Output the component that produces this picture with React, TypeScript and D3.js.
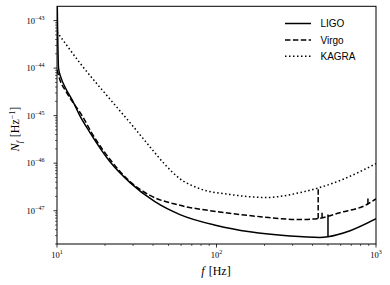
import React from 'react';
import * as d3 from 'd3';

const ligoF = [10, 10.09, 10.22, 10.59, 11.22, 12.4, 13.9, 16.1, 21.5, 28.7, 41.1, 59.0, 100, 162, 289, 445, 500, 688, 1000];
const ligoN = [4.4e-43, 6.4e-44, 1.0e-44, 6.3e-45, 4.0e-45, 2.2e-45, 1e-45, 4.4e-46, 1.07e-46, 3.9e-47, 1.55e-47, 8.3e-48, 4.9e-48, 3.6e-48, 2.94e-48, 2.75e-48, 2.85e-48, 3.8e-48, 6.8e-48];
const ligoSpikeF = [500];
const ligoSpikeN = [8.3e-48];

const virgoF = [10, 10.44, 11.4, 14.6, 16.6, 22.1, 28.7, 38.3, 59.0, 100, 188, 333, 427, 593, 877, 1000];
const virgoN = [9.2e-45, 5.6e-45, 3.2e-45, 9.1e-46, 4.2e-46, 1.07e-46, 4.1e-47, 2.1e-47, 1.3e-47, 9.6e-48, 7.5e-48, 6.5e-48, 6.8e-48, 9.1e-48, 1.35e-47, 1.78e-47];
const virgoSpikeF = [434, 459, 890];
const virgoSpikeN = [3.0e-47, 9.1e-48, 2.05e-47];

const kagraF = [10, 13.9, 21.8, 28.7, 38.3, 47.6, 59.0, 78.7, 121, 207, 333, 593, 1000];
const kagraN = [5.8e-44, 1.29e-44, 2.1e-45, 7.1e-46, 2.2e-46, 9.3e-47, 4.7e-47, 2.9e-47, 2.2e-47, 1.9e-47, 2.4e-47, 4.3e-47, 9.8e-47];

const xTickExp = [1, 2, 3];
const yTickExp = [-47, -46, -45, -44, -43];
const legendLabels = ['LIGO', 'Virgo', 'KAGRA'];

const W = 390, H = 285;
const L = 57, R = 376, T = 6.3, B = 244;

export default function App() {
  const x = d3.scaleLog().domain([10, 1000]).range([L, R]);
  const y = d3.scaleLog().domain([Math.pow(10, -47.7), Math.pow(10, -42.7)]).range([B, T]);
  const line = d3.line<[number, number]>().x(d => x(d[0])).y(d => y(d[1])).curve(d3.curveMonotoneX);
  const lin = d3.line<[number, number]>().x(d => x(d[0])).y(d => y(d[1]));

  const interpLog = (fs: number[], ns: number[], f: number) => {
    const lf = Math.log10(f);
    for (let i = 0; i < fs.length - 1; i++) {
      const a = Math.log10(fs[i]), b = Math.log10(fs[i + 1]);
      if (lf >= a && lf <= b) {
        const t = (lf - a) / (b - a);
        return Math.pow(10, Math.log10(ns[i]) * (1 - t) + Math.log10(ns[i + 1]) * t);
      }
    }
    return ns[ns.length - 1];
  };

  const zip = (a: number[], b: number[]) => a.map((v, i) => [v, b[i]] as [number, number]);

  const series = [
    { f: ligoF, n: ligoN, sf: ligoSpikeF, sn: ligoSpikeN, dash: undefined as string | undefined },
    { f: virgoF, n: virgoN, sf: virgoSpikeF, sn: virgoSpikeN, dash: '5.5,2.4' },
    { f: kagraF, n: kagraN, sf: [] as number[], sn: [] as number[], dash: '1.5,2.5' },
  ];

  const xMinor: number[] = [];
  for (let e = 1; e < 3; e++) for (let k = 2; k <= 9; k++) xMinor.push(k * Math.pow(10, e));
  const yMinor: number[] = [];
  for (let e = -48; e <= -43; e++) for (let k = 2; k <= 9; k++) {
    const v = k * Math.pow(10, e);
    if (v >= Math.pow(10, -47.7) && v <= Math.pow(10, -42.7)) yMinor.push(v);
  }

  const serif = '"Liberation Serif", "DejaVu Serif", serif';
  const sans = '"Liberation Sans", Arial, sans-serif';

  return (
    <svg width={W} height={H} style={{ position: 'absolute', left: 0, top: 0, background: '#fff' }}>
      <defs>
        <clipPath id="plot">
          <rect x={L} y={T} width={R - L} height={B - T} />
        </clipPath>
      </defs>
      <g clipPath="url(#plot)" fill="none" stroke="#000" strokeWidth={1.5}>
        {series.map((s, i) => (
          <g key={i}>
            <path d={line(zip(s.f, s.n)) || ''} strokeDasharray={s.dash} />
            {s.sf.map((sf, j) => (
              <path key={j} d={lin([[sf, interpLog(s.f, s.n, sf)], [sf, s.sn[j]]]) || ''} strokeDasharray={s.dash} />
            ))}
          </g>
        ))}
      </g>
      <rect x={L} y={T} width={R - L} height={B - T} fill="none" stroke="#000" strokeWidth={1} />
      {xTickExp.map(e => {
        const px = x(Math.pow(10, e));
        return (
          <g key={e}>
            <line x1={px} x2={px} y1={B} y2={B + 3.5} stroke="#000" strokeWidth={0.8} />
            <text x={px} y={258} textAnchor="middle" fontFamily={serif} fontSize={8.5} fill="#000">
              10<tspan dy={-3.8} fontSize={6}>{e}</tspan>
            </text>
          </g>
        );
      })}
      {xMinor.map((v, i) => (
        <line key={i} x1={x(v)} x2={x(v)} y1={B} y2={B + 2} stroke="#000" strokeWidth={0.6} />
      ))}
      {yTickExp.map(e => {
        const py = y(Math.pow(10, e));
        return (
          <g key={e}>
            <line x1={L - 3.5} x2={L} y1={py} y2={py} stroke="#000" strokeWidth={0.8} />
            <text x={44.5} y={py + 3} textAnchor="end" fontFamily={serif} fontSize={8.5} fill="#000">
              10<tspan dy={-3.8} fontSize={6}>{'\u2212' + Math.abs(e)}</tspan>
            </text>
          </g>
        );
      })}
      {yMinor.map((v, i) => (
        <line key={i} x1={L - 2} x2={L} y1={y(v)} y2={y(v)} stroke="#000" strokeWidth={0.6} />
      ))}
      <text x={216} y={275} textAnchor="middle" fontFamily={serif} fontSize={12} fill="#000">
        <tspan fontStyle="italic">f</tspan>
        <tspan dx={4}>[Hz]</tspan>
      </text>
      <text transform="translate(19,129) rotate(-90)" textAnchor="middle" fontFamily={serif} fontSize={12} fill="#000">
        <tspan fontStyle="italic">N</tspan>
        <tspan fontStyle="italic" fontSize={8} dy={2.5}>f</tspan>
        <tspan dx={4} dy={-2.5}>[Hz</tspan>
        <tspan fontSize={8} dy={-4.5}>{'\u22121'}</tspan>
        <tspan dy={4.5}>]</tspan>
      </text>
      {legendLabels.map((lab, i) => {
        const cy = 23.5 + i * 16.4;
        const dash = series[i].dash;
        return (
          <g key={lab}>
            <line x1={285} x2={311} y1={cy} y2={cy} stroke="#000" strokeWidth={1.5} strokeDasharray={dash} />
            <text x={320.5} y={cy + 3.6} fontFamily={sans} fontSize={10} fill="#000">{lab}</text>
          </g>
        );
      })}
    </svg>
  );
}
